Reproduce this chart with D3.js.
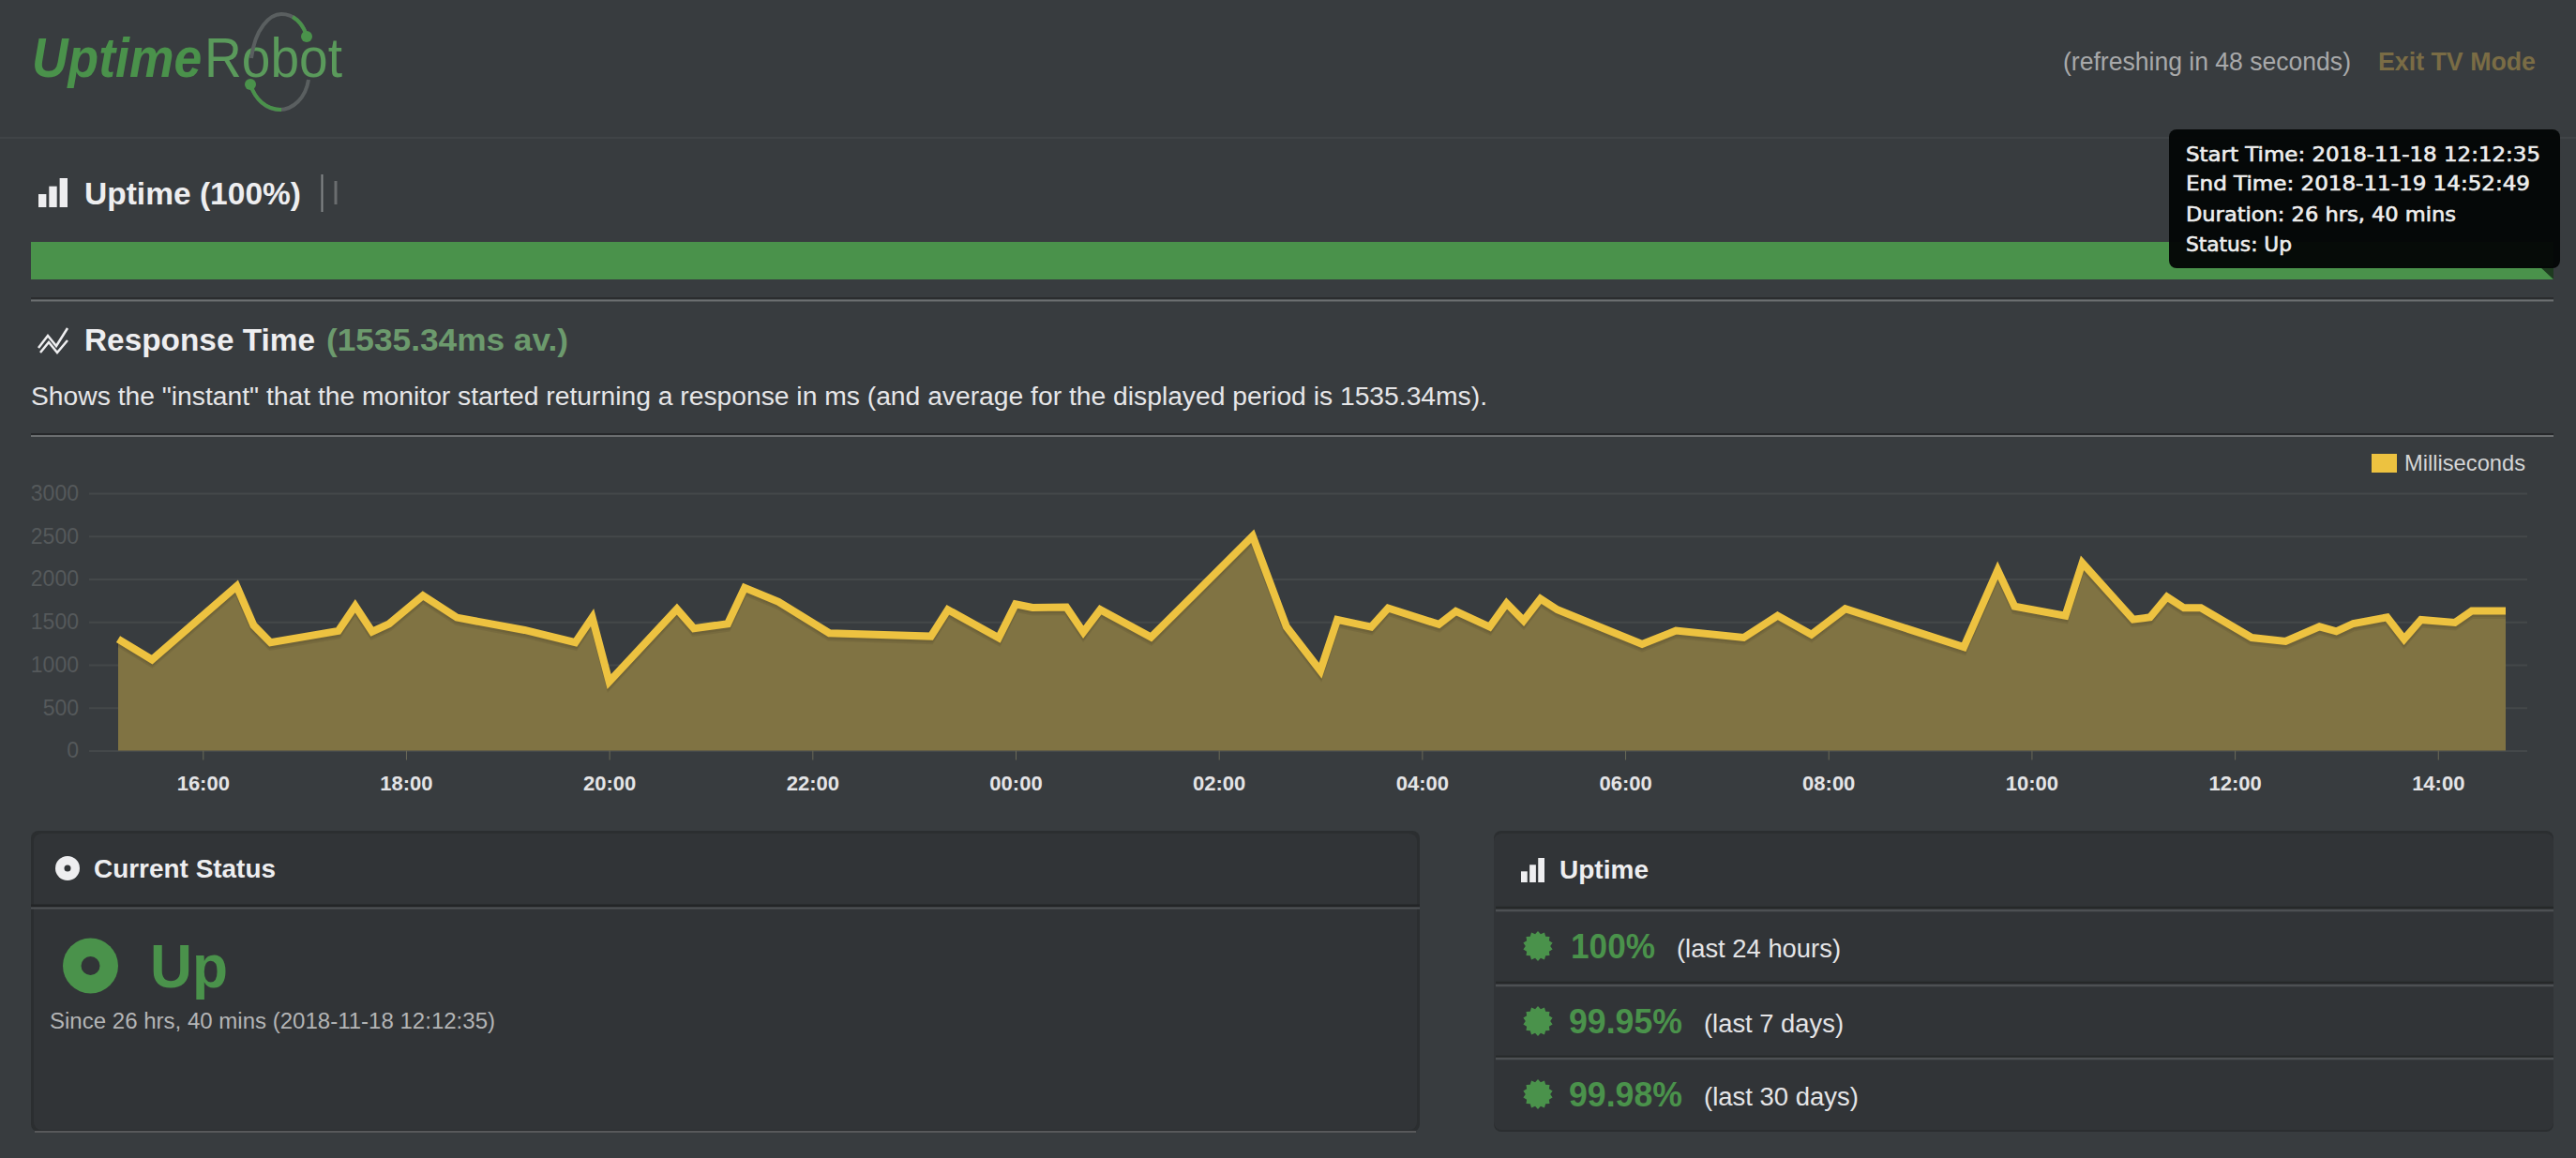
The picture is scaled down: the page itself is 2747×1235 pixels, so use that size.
<!DOCTYPE html>
<html><head><meta charset="utf-8">
<script src="https://cdn.jsdelivr.net/npm/d3@7/dist/d3.min.js"></script>
<style>
html,body{margin:0;padding:0;background:#383c3f;overflow:hidden}
svg{display:block}
text{font-family:"Liberation Sans",Arial,sans-serif}
</style></head><body>
<svg id="c" width="2747" height="1235"></svg>
<script>
// ---- data ----
const sampleTimes = [
"2018-11-18 15:10","2018-11-18 15:30","2018-11-18 16:20","2018-11-18 16:30","2018-11-18 16:40","2018-11-18 17:20",
"2018-11-18 17:30","2018-11-18 17:40","2018-11-18 17:50","2018-11-18 18:10","2018-11-18 18:30","2018-11-18 19:10",
"2018-11-18 19:40","2018-11-18 19:50","2018-11-18 20:00","2018-11-18 20:40","2018-11-18 20:50","2018-11-18 21:10",
"2018-11-18 21:20","2018-11-18 21:40","2018-11-18 22:10","2018-11-18 23:10","2018-11-18 23:20","2018-11-18 23:50",
"2018-11-19 00:00","2018-11-19 00:10","2018-11-19 00:30","2018-11-19 00:40","2018-11-19 00:50","2018-11-19 01:20",
"2018-11-19 02:20","2018-11-19 02:40","2018-11-19 03:00","2018-11-19 03:10","2018-11-19 03:30","2018-11-19 03:40",
"2018-11-19 04:10","2018-11-19 04:20","2018-11-19 04:40","2018-11-19 04:50","2018-11-19 05:00","2018-11-19 05:10",
"2018-11-19 05:20","2018-11-19 06:10","2018-11-19 06:30","2018-11-19 07:10","2018-11-19 07:30","2018-11-19 07:50",
"2018-11-19 08:10","2018-11-19 09:20","2018-11-19 09:40","2018-11-19 09:50","2018-11-19 10:20","2018-11-19 10:30",
"2018-11-19 11:00","2018-11-19 11:10","2018-11-19 11:20","2018-11-19 11:30","2018-11-19 11:40","2018-11-19 12:10",
"2018-11-19 12:30","2018-11-19 12:50","2018-11-19 13:00","2018-11-19 13:10","2018-11-19 13:30","2018-11-19 13:40",
"2018-11-19 13:50","2018-11-19 14:10","2018-11-19 14:20","2018-11-19 14:40"];
const responseMs = [
1300,1060,1916,1460,1260,1394,1686,1387,1478,1807,1551,1405,1260,1551,803,1650,1424,1478,1898,1734,1369,
1332,1642,1314,1708,1668,1672,1380,1642,1321,2500,1442,931,1526,1442,1661,1471,1624,1442,1716,1515,1770,
1642,1241,1398,1317,1573,1353,1653,1207,2103,1682,1573,2187,1529,1554,1792,1664,1664,1317,1273,1445,1390,
1481,1554,1298,1525,1492,1628,1628];
const yTickValues = [0,500,1000,1500,2000,2500,3000];
const xTickLabels = ["16:00","18:00","20:00","22:00","00:00","02:00","04:00","06:00","08:00","10:00","12:00","14:00"];
const seriesName = "Milliseconds";
const tooltipLines = ["Start Time: 2018-11-18 12:12:35","End Time: 2018-11-19 14:52:49","Duration: 26 hrs, 40 mins","Status: Up"];
const uptimePercents = ["100%","99.95%","99.98%"];
const uptimePeriods = ["(last 24 hours)","(last 7 days)","(last 30 days)"];

// ---- colours ----
const GREEN="#4a924b", YEL="#edc240", AREA="#807343", PANEL="#313437", WHITE="#eeeef0";

const svg=d3.select("#c");
function T(x,y,s,o={}){
  const t=svg.append("text").attr("x",x).attr("y",y).text(s)
    .attr("font-size",o.size||24).attr("fill",o.fill||WHITE).attr("font-weight",o.weight||"normal");
  if(o.style)t.attr("font-style",o.style);
  if(o.family)t.style("font-family",o.family);
  if(o.w)t.attr("textLength",o.w).attr("lengthAdjust","spacingAndGlyphs");
  if(o.stroke)t.attr("stroke",o.fill||WHITE).attr("stroke-width",o.stroke);
  return t;
}
function L(x1,y1,x2,y2,c,w){svg.append("line").attr("x1",x1).attr("y1",y1).attr("x2",x2).attr("y2",y2).attr("stroke",c).attr("stroke-width",w||1);}
function R(x,y,w,h,c,r){return svg.append("rect").attr("x",x).attr("y",y).attr("width",w).attr("height",h).attr("fill",c).attr("rx",r||0);}
function bars(x,y,w,h,c){ // signal-bars icon
  const bw=w*0.27,gap=(w-3*bw)/2;
  [0.45,0.72,1].forEach((f,i)=>R(x+i*(bw+gap),y+h*(1-f),bw,h*f,c));
}

// ---- header ----
L(0,147,2747,147,"#404447",2);
T(0,0,"Uptime",{size:53.5,weight:"bold",style:"italic",fill:GREEN}).attr("transform","translate(34,82) scale(1,1.09)");
T(218,82,"Robot",{size:60,fill:"#5a9a5b",w:147});
svg.append("path").attr("fill","none").attr("stroke","#5a5f60").attr("stroke-width",4)
  .attr("d","M268,62 C272,30 288,15 300,15 C313,15 323,24 327,38");
svg.append("path").attr("fill","none").attr("stroke",GREEN).attr("stroke-width",4)
  .attr("d","M312,18 C319,22 324,29 327,38");
svg.append("path").attr("fill","none").attr("stroke","#5a5f60").attr("stroke-width",4)
  .attr("d","M329,85 C326,105 312,117 298,117 C284,117 272,106 267,90");
svg.append("path").attr("fill","none").attr("stroke",GREEN).attr("stroke-width",4)
  .attr("d","M300,117 C284,117 272,106 267,90");
svg.append("circle").attr("cx",327).attr("cy",39).attr("r",6).attr("fill",GREEN);
svg.append("circle").attr("cx",267).attr("cy",90).attr("r",6).attr("fill",GREEN);
T(2200,75,"(refreshing in 48 seconds)",{size:27,fill:"#a8a9aa",w:307});
T(2536,75,"Exit TV Mode",{size:27,weight:"bold",fill:"#7a6c45",w:168});

// ---- uptime heading and bar ----
bars(41,190,31,31,WHITE);
T(90,217.5,"Uptime (100%)",{size:33,weight:"bold",w:231});
L(343.5,186,343.5,226,"#85888a",2);
L(358,193,358,218,"#6a6d6f",3);
R(33,258,2690,40,GREEN);
L(33,318,2723,318,"#2b2d2f",2);
L(33,320.5,2723,320.5,"#6b6e70",2);

// ---- response time heading ----
svg.append("path").attr("fill","none").attr("stroke",WHITE).attr("stroke-width",2.5)
  .attr("d","M41,371 L51,358 L60,369 L72,350 M43,376 L52,365 L61,376 L72,363");
T(90,374,"Response Time",{size:33,weight:"bold",w:246});
T(348,374,"(1535.34ms av.)",{size:33,weight:"bold",fill:"#6c9a6d",w:258});
T(33,432,'Shows the "instant" that the monitor started returning a response in ms (and average for the displayed period is 1535.34ms).',{size:27,fill:"#e6e6e8",w:1553});
L(33,463,2723,463,"#26282a",2);
L(33,465,2723,465,"#6b6e70",2);

// ---- chart ----
const parse=d3.timeParse("%Y-%m-%d %H:%M");
const points=sampleTimes.map((t,i)=>({t:parse(t),v:responseMs[i]}));
const x=d3.scaleTime().domain([parse("2018-11-18 15:10"),parse("2018-11-19 14:40")]).range([126,2672]);
const y=d3.scaleLinear().domain([0,3000]).range([800.5,526]);
const GL=95,GR=2695;

const yAxis=svg.append("g").attr("transform",`translate(${GL},0)`)
  .call(d3.axisLeft(y).tickValues(yTickValues).tickSize(-(GR-GL)).tickPadding(11).tickFormat(d3.format("d")));
yAxis.select(".domain").remove();
yAxis.selectAll("line").attr("stroke","#44484a").attr("stroke-width",2);
yAxis.selectAll("text").attr("fill","#55595b").attr("font-size",23).style("font-family",'"Liberation Sans"');

const area=d3.area().x(d=>x(d.t)).y0(y(0)).y1(d=>y(d.v));
const line=d3.line().x(d=>x(d.t)).y(d=>y(d.v));
svg.append("path").datum(points).attr("d",area).attr("fill",AREA);
[3,5].forEach(off=>svg.append("path").datum(points).attr("d",line).attr("fill","none")
  .attr("stroke","rgba(0,0,0,0.07)").attr("stroke-width",7).attr("transform",`translate(0,${off})`));
svg.append("path").datum(points).attr("d",line).attr("fill","none").attr("stroke",YEL)
  .attr("stroke-width",8).attr("stroke-linejoin","miter");

const xAxis=svg.append("g").attr("transform",`translate(0,${y(0)})`)
  .call(d3.axisBottom(x).ticks(d3.timeHour.every(2)).tickSize(10).tickPadding(17).tickFormat(d3.timeFormat("%H:%M")));
xAxis.select(".domain").remove();
xAxis.selectAll("line").attr("stroke","#6b6a58").attr("stroke-width",1);
xAxis.selectAll("text").attr("fill","#e4e4e6").attr("font-size",22).attr("font-weight","bold").style("font-family",'"Liberation Sans"');

// legend
R(2529,484,27,20,YEL);
T(2564,502,seriesName,{size:24,fill:"#d4d5d6",w:129});

// ---- current status panel ----
function panel(px,pw,border){
  R(px,886,pw,321,"#2b2e30",8);
  R(px+(border?3:0),889,pw-(border?6:0),316,PANEL,8);
}
panel(33,1481,true);
L(33,966,1514,966,"#232527",3);
L(33,968.5,1514,968.5,"#505356",2);
L(37,1207,1510,1207,"#58595b",2);
svg.append("circle").attr("cx",72).attr("cy",926).attr("r",13).attr("fill",WHITE);
svg.append("circle").attr("cx",72).attr("cy",926).attr("r",3.5).attr("fill",PANEL);
T(100,936,"Current Status",{size:27,weight:"bold",w:194});
svg.append("circle").attr("cx",96.5).attr("cy",1030).attr("r",29.5).attr("fill",GREEN);
svg.append("circle").attr("cx",96.5).attr("cy",1030).attr("r",10).attr("fill",PANEL);
T(160,1053,"Up",{size:64,weight:"bold",fill:GREEN,w:83});
T(53,1097,"Since 26 hrs, 40 mins (2018-11-18 12:12:35)",{size:23,fill:"#b4b5b6",w:475});

// ---- uptime panel ----
panel(1593,1130,false);
[[968,971],[1048,1051],[1127,1129]].forEach(([a,b])=>{
  L(1595,a,2723,a,"#262829",2.5);
  L(1595,b,2723,b,"#4d5053",2.5);
});
bars(1622,915,25,26,WHITE);
T(1663,937,"Uptime",{size:27,weight:"bold",w:95});
const rowBase=[1022,1102,1180], rowStar=[1009,1089,1167], pctX=[1675,1673,1673], pctW=[90,121,121], lblX=[1788,1817,1817], lblW=[175,149,165];
const star=d3.lineRadial().curve(d3.curveLinearClosed).angle((d,i)=>i*Math.PI/14).radius((d,i)=>i%2?13.2:16);
uptimePercents.forEach((p,i)=>{
  svg.append("path").attr("transform",`translate(1640,${rowStar[i]})`).attr("d",star(d3.range(28))).attr("fill",GREEN);
  T(pctX[i],rowBase[i],p,{size:36,weight:"bold",fill:GREEN,w:pctW[i]});
  T(lblX[i],rowBase[i]-1,uptimePeriods[i],{size:27,fill:"#e4e4e6",w:lblW[i]});
});

// ---- tooltip ----
svg.append("path").attr("d","M2708,284 L2723,284 L2723,298 Z").attr("fill","#1e3a20");
R(2313,138,417,148,"#040606",8).attr("opacity",0.97);
const ttBase=[172,203,236,268], ttW=[378,367,288,113];
tooltipLines.forEach((s,i)=>T(2331,ttBase[i],s,{size:20.5,fill:"#eeeeee",family:'"DejaVu Sans"',stroke:0.6,w:ttW[i]}));
</script>
</body></html>
